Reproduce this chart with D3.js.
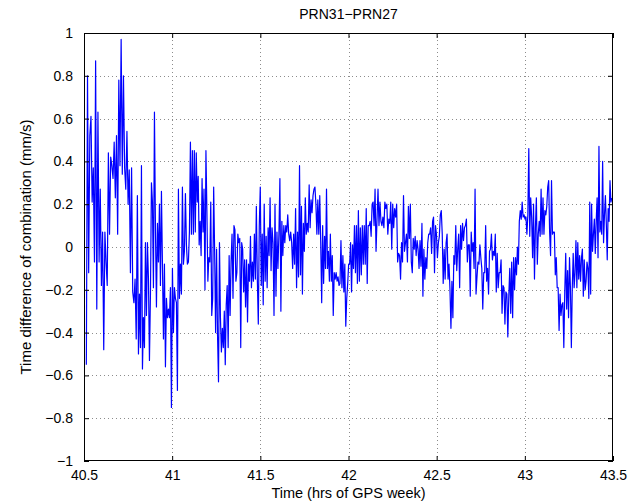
<!DOCTYPE html>
<html><head><meta charset="utf-8">
<script src="https://cdn.jsdelivr.net/npm/d3@7"></script>
<style>body{margin:0;background:#fff} text{font-family:"Liberation Sans",Arial,Helvetica,sans-serif;fill:#000}</style>
</head><body><svg id="c" width="644" height="504"></svg>
<script>
const title = "PRN31\u2212PRN27";
const xLabel = "Time (hrs of GPS week)";
const yLabel = "Time difference of combination (mm/s)";
const xTicks = [40.5, 41, 41.5, 42, 42.5, 43, 43.5];
const xTickLabels = ["40.5", "41", "41.5", "42", "42.5", "43", "43.5"];
const yTicks = [-1, -0.8, -0.6, -0.4, -0.2, 0, 0.2, 0.4, 0.6, 0.8, 1];
const yTickLabels = ["\u22121", "\u22120.8", "\u22120.6", "\u22120.4", "\u22120.2", "0", "0.2", "0.4", "0.6", "0.8", "1"];

// series values, in time order, split into consecutive time windows
const seg1 = [-0.55, 0.80, -0.12, 0.52, 0.61, 0.21, 0.37, -0.07, 0.87, -0.29, 0.63, -0.07, 0.27, -0.18, 0.07, -0.48, 0.07, -0.07, -0.18, 0.44, 0.06, 0.42, 0.38, 0.32, 0.49, 0.23, 0.52, 0.06, 0.78, 0.38, 0.97, 0.34, 0.80, 0.37, 0.27, 0.54, 0.20, 0.36, -0.12, 0.37, -0.21, -0.26, -0.15, -0.43, 0.24];
const seg2 = [-0.50, -0.22, -0.47, 0.38, -0.57, -0.33, -0.47, 0.02, -0.32, 0.02, -0.15, -0.53, -0.22, 0.30, 0.21, -0.19, 0.63, 0.09, -0.28, 0.11, -0.07, 0.20, -0.18, 0.26, -0.08, -0.43, -0.08, -0.56, -0.24, -0.33, -0.29, -0.33, -0.19, -0.75, -0.10, -0.40, -0.19, -0.24, -0.26, -0.67, 0.27, -0.24, -0.08, -0.22, 0.28, -0.08, -0.02, 0.25, 0.01, -0.08, -0.07, 0.07, 0.49, 0.06];
const seg3 = [0.45, 0.06, 0.45, 0.07, 0.44, 0.21, 0.33, 0.01, 0.12, -0.04, 0.32, 0.07, 0.27, -0.20, 0.45, 0.17, -0.16, -0.05, -0.07, 0.21, -0.32, -0.24, 0.28, -0.02, -0.40, -0.01, -0.41, -0.63, 0.02, -0.33, -0.49, -0.38, -0.47, -0.30, -0.55, -0.27, -0.18, -0.47, -0.04, -0.32, -0.07, 0.06, -0.24, 0.10, 0.08, -0.16, -0.12, 0.06, 0.02, 0.04, -0.47, 0.02, -0.01, -0.21, -0.06, -0.28];
const seg4 = [-0.06, -0.35, -0.08, -0.16, 0.05, -0.19, -0.07, -0.16, 0.06, -0.15, 0.19, -0.15, -0.36, 0.10, 0.28, -0.18, 0.06, -0.27, 0.20, -0.16, 0.05, -0.19, 0.09, -0.04, 0.23, -0.11, 0.09, 0.02, -0.32, 0.20, -0.23, 0.07, -0.10, 0.06, 0.32, -0.30, 0.12, -0.04, 0.10, 0.02, 0.10, 0.07, 0.15, 0.06, 0.03, 0.07, 0.02, -0.10, 0.06, -0.08, 0.18, -0.19, 0.07, -0.14, 0.38];
const seg5 = [-0.13, 0.19, -0.22, 0.11, -0.02, 0.23, 0.06, 0.11, 0.07, 0.29, 0.09, 0.22, 0.16, 0.24, 0.27, 0.28, 0.20, 0.06, 0.22, 0.06, 0.24, 0.02, -0.26, 0.10, -0.17, 0.05, -0.10, 0.27, -0.10, -0.02, -0.16, 0.06, -0.16, -0.04, -0.32, -0.12, -0.15, -0.12, -0.16, -0.14, -0.18, -0.17, 0.03, -0.19, -0.04, -0.21, -0.08, -0.37, -0.24, -0.17, -0.08, -0.08, 0.02, -0.21, 0.01, -0.10];
const seg6 = [0.10, -0.12, 0.10, -0.17, 0.17, -0.16, 0.09, -0.13, 0.10, -0.08, 0.10, -0.08, 0.18, -0.17, 0.10, 0.10, 0.12, 0.05, 0.20, 0.21, 0.10, 0.27, -0.02, 0.13, 0.27, 0.10, 0.21, 0.12, 0.10, 0.14, 0.09, 0.21, 0.18, 0.20, 0.06, 0.13, 0.11, 0.21, -0.01, 0.20, 0.09, 0.18, 0.14, 0.20, -0.07, -0.03, -0.04, -0.15, 0.02, -0.07, 0.24, -0.02, 0.02, 0.06, -0.07];
const seg7 = [0.19, 0.04, 0.20, -0.07, -0.12, 0.04, -0.01, 0.05, -0.04, 0.03, -0.01, -0.10, 0.03, -0.09, 0.11, -0.23, -0.01, -0.15, -0.05, -0.10, 0.02, 0.06, 0.06, 0.09, -0.03, 0.12, 0.14, -0.12, 0.10, 0.06, -0.05, 0.02, 0.05, 0.15, 0.17, 0.06, -0.17, -0.01, -0.15, 0.02, 0.06, -0.15, -0.08, -0.20, -0.38, -0.16, -0.33, -0.04, -0.08, 0.10, -0.11, -0.01, 0.06, -0.19, 0.10, -0.01];
const seg8 = [0.11, 0.03, 0.09, 0.10, 0.13, -0.07, 0.01, 0.01, -0.23, 0.07, -0.02, 0.02, -0.10, 0.27, -0.22, -0.14, -0.07, -0.08, 0.01, -0.05, -0.10, -0.29, -0.12, -0.12, 0.10, -0.16, -0.10, -0.22, -0.02, -0.01, 0.06, -0.06, -0.02, -0.04, 0.06, -0.21, -0.03, -0.19, -0.12, -0.12, -0.06, -0.31, -0.18, -0.19, -0.36, -0.21, -0.22, -0.42, -0.23, -0.10, -0.31, -0.07, -0.33, -0.05, -0.20, -0.05];
const seg9 = [-0.13, 0.00, -0.08, 0.12, 0.17, 0.13, 0.21, 0.14, 0.15, 0.13, 0.14, 0.06, 0.15, 0.46, 0.05, 0.23, 0.14, -0.05, 0.20, -0.15, 0.09, 0.23, -0.08, 0.06, 0.12, 0.05, 0.27, 0.06, 0.23, 0.06, 0.17, 0.15, 0.19, 0.28, 0.31, 0.07, -0.04, 0.31, 0.06, 0.07, 0.07, -0.13, -0.05, -0.19, -0.19, -0.39, -0.22, -0.32, -0.27, -0.26, -0.47, -0.21, -0.03, -0.29, -0.11, -0.33, -0.05];
const seg10 = [-0.19, -0.47, -0.19, -0.03, -0.19, -0.12, 0.03, -0.19, 0.02, -0.15, -0.04, -0.16, -0.05, -0.01, -0.23, -0.06, -0.20, -0.16, -0.07, -0.10, -0.24, 0.21, -0.22, 0.20, -0.02, 0.06, 0.13, -0.03, 0.12, 0.23, -0.05, 0.47, 0.07, 0.12, 0.06, 0.40, 0.02, 0.15, 0.24, 0.11, -0.06, 0.18, 0.12, 0.31, 0.21, 0.23];
const segments = [seg1, seg2, seg3, seg4, seg5, seg6, seg7, seg8, seg9, seg10];
// time window (hrs of GPS week) covered by each segment
const segStart = [40.51, 40.806, 41.112, 41.419, 41.725, 42.031, 42.337, 42.644, 42.950, 43.256];
const segEnd   = [40.806, 41.112, 41.419, 41.725, 42.031, 42.337, 42.644, 42.950, 43.256, 43.496];

const data = [];
segments.forEach((seg, k) => {
  const s = segStart[k], e = segEnd[k], n = seg.length;
  seg.forEach((v, i) => data.push({t: s + (i + 0.5) * (e - s) / n, v}));
});

const W = 644, H = 504;
const m = {left: 84, right: 31, top: 33, bottom: 43};
const svg = d3.select("#c");
svg.append("rect").attr("width", W).attr("height", H).attr("fill", "#fff");

const x = d3.scaleLinear().domain([40.5, 43.5]).range([m.left, W - m.right]);
const y = d3.scaleLinear().domain([-1, 1]).range([H - m.bottom, m.top]);

const g = svg.append("g");
// grid
g.append("g").selectAll("line").data(xTicks.slice(1, -1)).join("line")
  .attr("x1", d => Math.round(x(d)) + 0.5).attr("x2", d => Math.round(x(d)) + 0.5)
  .attr("y1", y(-1)).attr("y2", y(1))
  .attr("stroke", "#8c8c8c").attr("stroke-width", 1).attr("stroke-dasharray", "1,3");
g.append("g").selectAll("line").data(yTicks.slice(1, -1)).join("line")
  .attr("y1", d => Math.round(y(d)) + 0.5).attr("y2", d => Math.round(y(d)) + 0.5)
  .attr("x1", x(40.5)).attr("x2", x(43.5))
  .attr("stroke", "#8c8c8c").attr("stroke-width", 1).attr("stroke-dasharray", "1,3");

// data line
const line = d3.line().x(d => x(d.t)).y(d => y(d.v));
svg.append("path").datum(data).attr("d", line)
  .attr("fill", "none").attr("stroke", "#0000ff").attr("stroke-width", 1.2).attr("stroke-linejoin", "round");

// axes (ticks inward)
const tl = 5;
const xAxB = d3.axisBottom(x).tickValues(xTicks).tickSize(-tl).tickPadding(9).tickFormat((d, i) => xTickLabels[i]);
const xAxT = d3.axisTop(x).tickValues(xTicks).tickSize(-tl).tickFormat("");
const yAxL = d3.axisLeft(y).tickValues(yTicks).tickSize(-tl).tickPadding(11).tickFormat((d, i) => yTickLabels[i]);
const yAxR = d3.axisRight(y).tickValues(yTicks).tickSize(-tl).tickFormat("");
function style(sel) {
  sel.select(".domain").remove();
  sel.selectAll("line").attr("stroke", "#000");
  sel.selectAll("text").attr("font-size", 14).attr("font-family", null);
}
svg.append("g").attr("transform", `translate(0,${H - m.bottom})`).call(xAxB).call(style);
svg.append("g").attr("transform", `translate(0,${m.top})`).call(xAxT).call(style);
svg.append("g").attr("transform", `translate(${m.left},0)`).call(yAxL).call(style);
svg.append("g").attr("transform", `translate(${W - m.right},0)`).call(yAxR).call(style);

// box
svg.append("rect").attr("x", m.left + 0.5).attr("y", m.top + 0.5)
  .attr("width", W - m.left - m.right - 1).attr("height", H - m.top - m.bottom - 1)
  .attr("fill", "none").attr("stroke", "#000").attr("stroke-width", 1);

// texts
svg.append("text").attr("x", (m.left + W - m.right) / 2).attr("y", 19)
  .attr("text-anchor", "middle").attr("font-size", 14).text(title);
svg.append("text").attr("x", (m.left + W - m.right) / 2).attr("y", 498)
  .attr("text-anchor", "middle").attr("font-size", 14.5).text(xLabel);
svg.append("text").attr("transform", `translate(31,${(m.top + H - m.bottom) / 2}) rotate(-90)`)
  .attr("text-anchor", "middle").attr("font-size", 15).text(yLabel);
</script></body></html>
